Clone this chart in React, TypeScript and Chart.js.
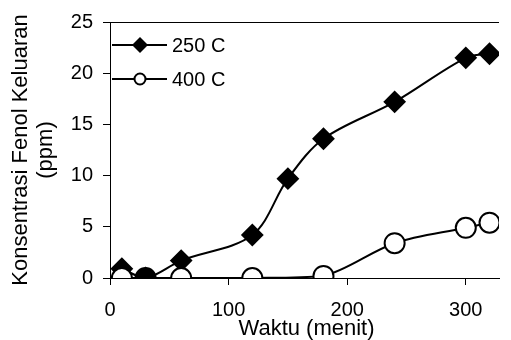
import React, { useEffect, useRef } from "react";
import { Chart, registerables } from "chart.js";

Chart.register(...registerables);

const seriesNames = ["250 C", "400 C"];
const time250 = [10, 30, 60, 120, 150, 180, 240, 300, 320];
const conc250 = [0.9, 0, 1.7, 4.2, 9.7, 13.6, 17.2, 21.5, 21.9];
const time400 = [10, 30, 60, 120, 180, 240, 300, 320];
const conc400 = [0, 0, 0, 0, 0.2, 3.4, 4.9, 5.4];
const xTicks = [0, 100, 200, 300];
const yTicks = [0, 5, 10, 15, 20, 25];
const xTitle = "Waktu (menit)";
const yTitle = ["Konsentrasi Fenol Keluaran", "(ppm)"];

const FONT = "'Liberation Sans', Arial, sans-serif";

const frameAndLegend = {
  id: "frameAndLegend",
  afterDraw(chart: any) {
    const { ctx, chartArea } = chart;
    const { left, top, right, bottom } = chartArea;
    ctx.save();
    // top border of plot area
    ctx.strokeStyle = "#000";
    ctx.lineWidth = 1;
    ctx.beginPath();
    ctx.moveTo(left, top + 0.5);
    ctx.lineTo(right, top + 0.5);
    ctx.stroke();

    // axis titles
    ctx.fillStyle = "#000";
    ctx.font = `22px ${FONT}`;
    ctx.textAlign = "center";
    ctx.textBaseline = "alphabetic";
    ctx.fillText(xTitle, (left + right) / 2 + 2, bottom + 57);
    const cy = (top + bottom) / 2;
    yTitle.forEach((line, i) => {
      ctx.save();
      ctx.translate(27 + i * 25, cy);
      ctx.rotate(-Math.PI / 2);
      ctx.fillText(line, 0, 0);
      ctx.restore();
    });

    const rows = [
      { y: top + 23, name: seriesNames[0], style: "diamond" },
      { y: top + 57, name: seriesNames[1], style: "circle" },
    ];
    for (const r of rows) {
      ctx.strokeStyle = "#000";
      ctx.lineWidth = 2;
      ctx.beginPath();
      ctx.moveTo(left + 2, r.y);
      ctx.lineTo(left + 57, r.y);
      ctx.stroke();
      const mx = left + 30;
      if (r.style === "diamond") {
        ctx.fillStyle = "#000";
        ctx.beginPath();
        ctx.moveTo(mx, r.y - 8);
        ctx.lineTo(mx + 8, r.y);
        ctx.lineTo(mx, r.y + 8);
        ctx.lineTo(mx - 8, r.y);
        ctx.closePath();
        ctx.fill();
      } else {
        ctx.fillStyle = "#fff";
        ctx.lineWidth = 2;
        ctx.beginPath();
        ctx.arc(mx, r.y, 5.5, 0, Math.PI * 2);
        ctx.fill();
        ctx.stroke();
      }
      ctx.fillStyle = "#000";
      ctx.font = `20px ${FONT}`;
      ctx.textBaseline = "middle";
      ctx.textAlign = "left";
      ctx.fillText(r.name, left + 62, r.y + 1);
    }
    ctx.restore();
  },
};

export default function App() {
  const canvasRef = useRef<HTMLCanvasElement | null>(null);

  useEffect(() => {
    const canvas = canvasRef.current;
    if (!canvas) return;
    const chart = new Chart(canvas, {
      type: "line",
      data: {
        datasets: [
          {
            label: seriesNames[0],
            data: time250.map((t, i) => ({ x: t, y: conc250[i] })),
            borderColor: "#000",
            borderWidth: 2,
            backgroundColor: "#000",
            pointStyle: "rectRot",
            pointRadius: 10,
            pointBorderWidth: 2,
            pointBorderColor: "#000",
            pointBackgroundColor: "#000",
            tension: 0.33,
            fill: false,
            order: 1,
          },
          {
            label: seriesNames[1],
            data: time400.map((t, i) => ({ x: t, y: conc400[i] })),
            borderColor: "#000",
            borderWidth: 2,
            backgroundColor: "#fff",
            pointStyle: "circle",
            pointRadius: 10,
            pointBorderWidth: 2,
            pointBorderColor: "#000",
            pointBackgroundColor: time400.map((t) => (t === 30 ? "#000" : "#fff")),
            tension: 0.33,
            fill: false,
            order: 0,
          },
        ],
      },
      options: {
        responsive: false,
        animation: false,
        layout: { padding: { top: 18, right: 0, bottom: 0, left: 0 } },
        plugins: {
          legend: { display: false },
          tooltip: { enabled: false },
        },
        scales: {
          x: {
            type: "linear",
            min: 0,
            max: 328,
            afterBuildTicks: (scale: any) => {
              scale.ticks = xTicks.map((v) => ({ value: v }));
            },
            afterFit: (scale: any) => {
              scale.height = 62;
            },
            ticks: {
              color: "#000",
              font: { family: FONT, size: 20 },
              padding: 13,
              maxRotation: 0,
            },
            grid: {
              drawOnChartArea: false,
              drawTicks: true,
              tickLength: 7,
              color: "#000",
              tickWidth: 1,
            },
            border: { display: true, color: "#000", width: 1 },
          },
          y: {
            type: "linear",
            min: 0,
            max: 25,
            afterBuildTicks: (scale: any) => {
              scale.ticks = yTicks.map((v) => ({ value: v }));
            },
            afterFit: (scale: any) => {
              scale.width = 110;
            },
            ticks: {
              color: "#000",
              font: { family: FONT, size: 20 },
              padding: 10,
            },
            grid: {
              drawOnChartArea: false,
              drawTicks: true,
              tickLength: 7,
              color: "#000",
              tickWidth: 1,
            },
            border: { display: true, color: "#000", width: 1 },
          },
        },
      },
      plugins: [frameAndLegend],
    });
    return () => chart.destroy();
  }, []);

  return (
    <div style={{ position: "fixed", left: 0, top: 0, width: 511, height: 340, background: "#fff" }}>
      <canvas ref={canvasRef} width={511} height={340} style={{ display: "block" }} />
    </div>
  );
}
